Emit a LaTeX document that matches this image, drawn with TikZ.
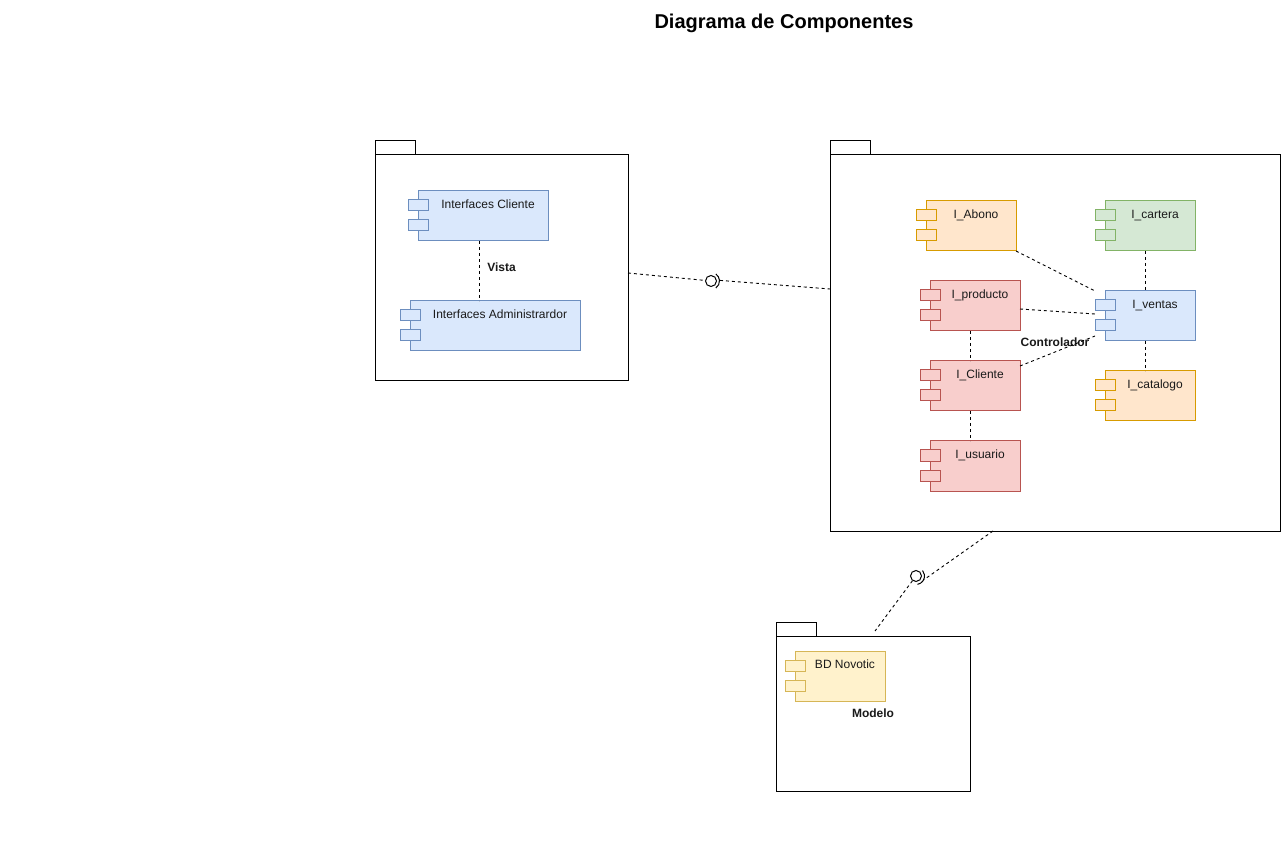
\documentclass[tikz,border=0pt]{standalone}
\usepackage{fontspec}
\setmainfont{Liberation Sans}
\usetikzlibrary{calc}
\definecolor{bluef}{HTML}{DAE8FC}\definecolor{blued}{HTML}{6C8EBF}
\definecolor{orangef}{HTML}{FFE6CC}\definecolor{oranged}{HTML}{D79B00}
\definecolor{greenf}{HTML}{D5E8D4}\definecolor{greend}{HTML}{82B366}
\definecolor{redf}{HTML}{F8CECC}\definecolor{redd}{HTML}{B85450}
\definecolor{yellowf}{HTML}{FFF2CC}\definecolor{yellowd}{HTML}{D6B656}
\definecolor{txt}{HTML}{1A1A1A}
\tikzset{
  comp/.style={draw, line width=1pt, minimum height=50pt, inner sep=0pt, outer sep=0pt},
  cblue/.style={fill=bluef, draw=blued},
  corange/.style={fill=orangef, draw=oranged},
  cgreen/.style={fill=greenf, draw=greend},
  cred/.style={fill=redf, draw=redd},
  cyellow/.style={fill=yellowf, draw=yellowd},
  ctext/.style={label={[anchor=base, xshift=5pt, yshift=-17.5pt, inner sep=0pt, font=\fontsize{12}{14}\selectfont, text=txt]north:#1}},
  pkg/.style={draw, line width=1pt, fill=white, inner sep=0pt, outer sep=0pt, font=\fontsize{12}{14}\selectfont\bfseries, text=txt},
  dline/.style={draw, line width=0.9pt, dash pattern=on 3pt off 3pt},
  lolli/.style={circle, draw, line width=1pt, fill=white, minimum size=11pt, inner sep=0pt},
}
\newcommand\ports[2]{%
  \draw[line width=1pt,#2] ($(#1.north west)+(-10,-9)$) rectangle ++(20,-11);
  \draw[line width=1pt,#2] ($(#1.north west)+(-10,-29)$) rectangle ++(20,-11);
}
\newcommand\pkgtab[1]{%
  \draw[line width=1pt] (#1.north west) rectangle ++(40,14);
}
\begin{document}
\begin{tikzpicture}[x=1pt,y=1pt]
\useasboundingbox (0,1) rectangle (1286,-849);
\node[font=\fontsize{20}{24}\selectfont\bfseries] (title) at (784,-22) {Diagrama de Componentes};

% packages
\node[pkg, minimum width=253pt, minimum height=226pt] (pkgV) at (501.5,-267) {\raisebox{2pt}{Vista}};
\pkgtab{pkgV}
\node[pkg, minimum width=450pt, minimum height=376pt] (pkgC) at (1055,-342) {\raisebox{2pt}{Controlador}};
\pkgtab{pkgC}
\node[pkg, minimum width=194pt, minimum height=155pt] (pkgM) at (873,-712.5) {Modelo};
\pkgtab{pkgM}

% Vista components
\node[comp, cblue, minimum width=130pt, ctext=Interfaces Cliente] (IC) at (483,-215) {};
\ports{IC}{cblue}
\node[comp, cblue, minimum width=170pt, ctext=Interfaces Administrardor] (IA) at (495,-325) {};
\ports{IA}{cblue}
\draw[dline] ([xshift=-4pt]IC.south) -- ([xshift=-16pt]IA.north);

% Controlador components
\node[comp, corange, minimum width=90pt, ctext=I\_Abono] (ab) at (971,-225) {};
\node[comp, cgreen, minimum width=90pt, ctext=I\_cartera] (ca) at (1150,-225) {};
\node[comp, cred, minimum width=90pt, ctext=I\_producto] (pr) at (975,-305) {};
\node[comp, cblue, minimum width=90pt, ctext=I\_ventas] (ve) at (1150,-315) {};
\node[comp, cred, minimum width=90pt, ctext=I\_Cliente] (cl) at (975,-385) {};
\node[comp, corange, minimum width=90pt, ctext=I\_catalogo] (cat) at (1150,-395) {};
\node[comp, cred, minimum width=90pt, ctext=I\_usuario] (us) at (975,-465) {};
\ports{ab}{corange}\ports{ca}{cgreen}\ports{pr}{cred}\ports{ve}{cblue}
\ports{cl}{cred}\ports{cat}{corange}\ports{us}{cred}

\draw[dline] (ab.south east) -- ([xshift=-10pt]ve.north west);
\draw[dline] ([yshift=-3pt]pr.east) -- ([xshift=-10pt,yshift=2pt]ve.west);
\draw[dline] ([yshift=-5pt]cl.north east) -- ([xshift=-10pt,yshift=5pt]ve.south west);
\draw[dline] ([xshift=-5pt]pr.south) -- ([xshift=-5pt]cl.north);
\draw[dline] ([xshift=-5pt]cl.south) -- ([xshift=-5pt]us.north);
\draw[dline] ([xshift=-5pt]ca.south) -- ([xshift=-5pt]ve.north);
\draw[dline] ([xshift=-5pt]ve.south) -- ([xshift=-5pt]cat.north);

% Modelo component
\node[comp, cyellow, minimum width=90pt, ctext=BD Novotic] (bd) at (840,-675) {};
\ports{bd}{cyellow}

% interfaces between packages
\coordinate (c1) at (830,-288);
\node[lolli] (L1) at (711,-280) {};
\draw[dline] ([yshift=-5pt]pkgV.east) -- (L1);
\draw[dline] (L1) ++(9,0.6) -- (c1);
\draw[line width=1pt] (L1.center) ++(-55:8.5) arc[start angle=-55, end angle=55, radius=8.5];

\coordinate (c2) at (993,-530);
\coordinate (c3) at (875,-630);
\node[lolli] (L2) at (916,-575) {};
\draw[dline] (c2) -- ($(L2.center)+(7.5,-4)$);
\draw[dline] (L2) -- (c3);
\draw[line width=1pt] (L2.center) ++(-80:8.5) arc[start angle=-80, end angle=40, radius=8.5];
\end{tikzpicture}
\end{document}
